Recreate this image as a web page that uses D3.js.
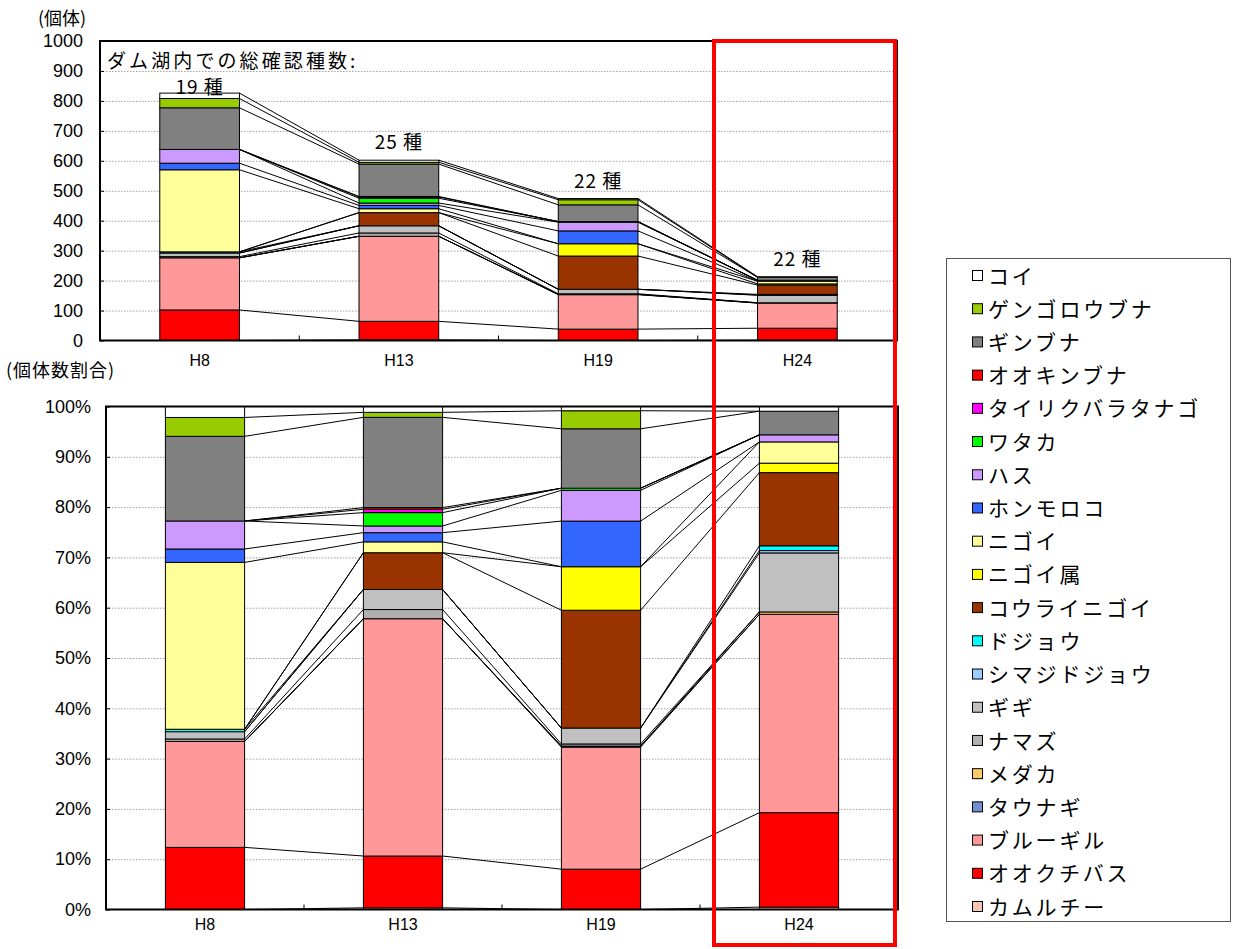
<!DOCTYPE html>
<html lang="ja">
<head>
<meta charset="utf-8">
<script src="https://cdn.jsdelivr.net/npm/d3@7"></script>
<style>
  html, body { margin: 0; padding: 0; background: #fff; }
  svg { display: block; }
  .jp { font-family: "Noto Sans CJK JP", "Noto Sans", sans-serif; }
  .num { font-family: "Liberation Sans Narrow", "Liberation Sans", Arial, sans-serif; }
</style>
</head>
<body>
<svg id="chart" width="1237" height="949"></svg>
<script>
// Survey years
const years = ["H8", "H13", "H19", "H24"];

// Species, stacked from the bottom of each bar upward
const species = [
  "カムルチー", "オオクチバス", "ブルーギル", "タウナギ", "メダカ",
  "ナマズ", "ギギ", "シマジドジョウ", "ドジョウ", "コウライニゴイ",
  "ニゴイ属", "ニゴイ", "ホンモロコ", "ハス", "ワタカ",
  "タイリクバラタナゴ", "オオキンブナ", "ギンブナ", "ゲンゴロウブナ", "コイ"
];

const speciesColors = [
  "#F8C4B4", "#FF0000", "#FF9999", "#7090D0", "#FFCC66",
  "#B0B0B0", "#C0C0C0", "#99CCFF", "#00FFFF", "#993300",
  "#FFFF00", "#FFFF99", "#3366FF", "#CC99FF", "#00FF00",
  "#FF00FF", "#FF0000", "#808080", "#99CC00", "#FFFFFF"
];

// Individuals caught per species (same order as `species`)
const countsH8  = [0, 102, 174, 0, 0, 4, 12, 0, 4, 0, 0, 274, 22, 46, 0, 0, 0, 139, 31, 18];
const countsH13 = [2, 62, 284, 0, 0, 11, 24, 0, 0, 44, 0, 13, 11, 8, 16, 4, 2, 108, 6, 7];
const countsH19 = [0, 38, 115, 1, 0, 2, 15, 0, 0, 111, 41, 0, 43, 29, 2, 0, 0, 56, 17, 4];
const countsH24 = [1, 40, 84, 0, 1, 0, 25, 1, 2, 31, 4, 9, 0, 3, 0, 0, 0, 10, 0, 2];

// Total number of species confirmed in the reservoir
const speciesTotals = [19, 25, 22, 22];

// Axis tick values
const countTicks = [0, 100, 200, 300, 400, 500, 600, 700, 800, 900, 1000];
const shareTicks = [0, 0.1, 0.2, 0.3, 0.4, 0.5, 0.6, 0.7, 0.8, 0.9, 1.0];

const rows = [countsH8, countsH13, countsH19, countsH24].map((c, i) => ({ year: years[i], counts: c }));
const keys = d3.range(species.length);

const svg = d3.select("#chart");

function drawPanel(opts) {
  const { x, y, stack, ticks, tickFmt, tickPad, xPad, top, bottom, left, right } = opts;
  const g = svg.append("g");
  const bw = x.bandwidth();

  // dotted gridlines
  g.append("g")
    .attr("transform", `translate(${left},0)`)
    .call(d3.axisLeft(y).tickValues(ticks.slice(1, -1)).tickSize(-(right - left)).tickFormat(""))
    .call(a => a.select(".domain").remove())
    .call(a => a.selectAll("line").attr("stroke", "#a0a0a0").attr("stroke-dasharray", "1.5,1.5").attr("stroke-width", 1));

  // stacked segments
  stack.forEach((layer, si) => {
    g.append("g").selectAll("rect")
      .data(layer.filter(d => d[1] - d[0] > 0))
      .join("rect")
      .attr("x", d => x(d.data.year))
      .attr("y", d => y(d[1]))
      .attr("width", bw)
      .attr("height", d => y(d[0]) - y(d[1]))
      .attr("fill", speciesColors[si])
      .attr("stroke", "#000")
      .attr("stroke-width", 1);
  });

  // series lines joining the top of each species between neighbouring bars
  const seg = [];
  stack.forEach(layer => {
    for (let i = 0; i < layer.length - 1; i++) {
      seg.push([x(layer[i].data.year) + bw, y(layer[i][1]), x(layer[i + 1].data.year), y(layer[i + 1][1])]);
    }
  });
  g.append("g").selectAll("line").data(seg).join("line")
    .attr("x1", d => d[0]).attr("y1", d => d[1])
    .attr("x2", d => d[2]).attr("y2", d => d[3])
    .attr("stroke", "#000").attr("stroke-width", 1);

  // plot frame
  g.append("rect")
    .attr("x", left).attr("y", top)
    .attr("width", right - left).attr("height", bottom - top)
    .attr("fill", "none").attr("stroke", "#000").attr("stroke-width", 2);

  // value axis
  g.append("g")
    .attr("transform", `translate(${left},0)`)
    .call(d3.axisLeft(y).tickValues(ticks).tickSizeInner(-4).tickSizeOuter(0).tickPadding(tickPad).tickFormat(tickFmt))
    .call(a => a.select(".domain").remove())
    .call(a => a.selectAll("line").attr("stroke", "#000"))
    .call(a => a.selectAll("text").attr("class", "num").attr("font-size", 18).attr("fill", "#000"));

  // category axis
  g.append("g")
    .attr("transform", `translate(0,${bottom})`)
    .call(d3.axisBottom(x).tickSize(0).tickPadding(xPad))
    .call(a => a.select(".domain").remove())
    .call(a => a.selectAll("text").attr("class", "num").attr("font-size", 16).attr("fill", "#000"));

  // category separator ticks
  const seps = years.slice(1).map((yr, i) => (x(years[i]) + bw + x(yr)) / 2);
  g.append("g").selectAll("line").data(seps).join("line")
    .attr("x1", d => d).attr("x2", d => d)
    .attr("y1", bottom).attr("y2", bottom - 5)
    .attr("stroke", "#000").attr("stroke-width", 1);

  return g;
}

// ---- upper panel: individuals ----
const xTop = d3.scaleBand().domain(years).range([100, 897]).paddingInner(0.6).paddingOuter(0.3);
const yTop = d3.scaleLinear().domain([0, 1000]).range([340.5, 41]);
const stackCount = d3.stack().keys(keys).value((r, k) => r.counts[k])(rows);

const gTop = drawPanel({
  x: xTop, y: yTop, stack: stackCount, ticks: countTicks, tickFmt: d3.format("d"),
  tickPad: 17, xPad: 14, top: 41, bottom: 340.5, left: 100, right: 897
});

gTop.append("text").attr("class", "jp")
  .attr("x", 107).attr("y", 68)
  .attr("font-size", 19).attr("letter-spacing", 3.1)
  .text("ダム湖内での総確認種数:");

// species total labels above each bar, kept clear of the panel title
const totals = rows.map(r => d3.sum(r.counts));
gTop.append("g").selectAll("text").data(years).join("text")
  .attr("class", "jp")
  .attr("x", d => xTop(d) + xTop.bandwidth() / 2)
  .attr("y", (d, i) => Math.max(yTop(totals[i]) - 11, 94))
  .attr("text-anchor", "middle")
  .attr("font-size", 19)
  .attr("letter-spacing", 1)
  .text((d, i) => `${speciesTotals[i]} 種`);

svg.append("text").attr("class", "jp")
  .attr("x", 38).attr("y", 25).attr("font-size", 18)
  .text("(個体)");

// ---- lower panel: share of individuals ----
const xBot = d3.scaleBand().domain(years).range([106, 898]).paddingInner(0.6).paddingOuter(0.3);
const yBot = d3.scaleLinear().domain([0, 1]).range([909.5, 406.5]);
const stackShare = d3.stack().keys(keys).value((r, k) => r.counts[k]).offset(d3.stackOffsetExpand)(rows);

drawPanel({
  x: xBot, y: yBot, stack: stackShare, ticks: shareTicks, tickFmt: d3.format(".0%"),
  tickPad: 15, xPad: 9, top: 406.5, bottom: 909.5, left: 106, right: 898
});

svg.append("text").attr("class", "jp")
  .attr("x", 6).attr("y", 377).attr("font-size", 18).attr("letter-spacing", 1)
  .text("(個体数割合)");

// ---- legend ----
const legend = svg.append("g");
legend.append("rect")
  .attr("x", 946.5).attr("y", 258.5).attr("width", 284).attr("height", 663)
  .attr("fill", "#fff").attr("stroke", "#555").attr("stroke-width", 1);

const legendItems = keys.slice().reverse();
const ly = d3.scalePoint().domain(legendItems).range([276, 907]);
const li = legend.selectAll("g.item").data(legendItems).join("g")
  .attr("class", "item")
  .attr("transform", k => `translate(0,${ly(k)})`);
li.append("rect")
  .attr("x", 972.5).attr("y", -5.5).attr("width", 10).attr("height", 10)
  .attr("fill", k => speciesColors[k]).attr("stroke", "#000").attr("stroke-width", 1);
li.append("text").attr("class", "jp")
  .attr("x", 988).attr("y", 0).attr("dy", "0.36em")
  .attr("font-size", 21).attr("letter-spacing", 2.8)
  .text(k => species[k]);

// ---- highlight frame around the latest survey ----
svg.append("rect")
  .attr("x", 714).attr("y", 41).attr("width", 181).attr("height", 904)
  .attr("fill", "none").attr("stroke", "#FF0000").attr("stroke-width", 4);
</script>
</body>
</html>
